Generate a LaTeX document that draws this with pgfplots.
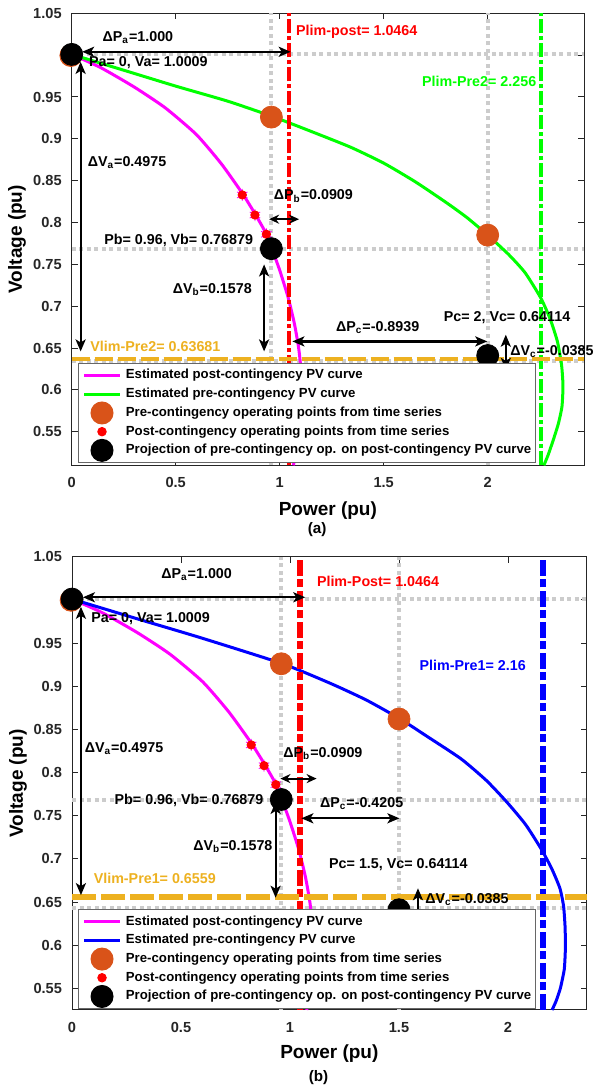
\documentclass[border=0pt]{standalone}
\usepackage{fontspec}
\setmainfont{Liberation Sans}
\usepackage{pgfplots}
\pgfplotsset{compat=1.18}
\usetikzlibrary{arrows.meta}
\definecolor{mag}{rgb}{1,0,1}
\definecolor{grn}{rgb}{0,1,0}
\definecolor{orng}{rgb}{0.85,0.325,0.098}
\definecolor{gold}{rgb}{0.929,0.694,0.125}
\definecolor{gry}{rgb}{0.8,0.8,0.8}
\definecolor{axc}{rgb}{0.15,0.15,0.15}
\tikzset{
  arr/.style={line width=1.1pt,{Stealth[length=6pt,width=5pt,inset=1.5pt]}-{Stealth[length=6pt,width=5pt,inset=1.5pt]}},
  arro/.style={line width=1pt,{Stealth[open,length=5pt,width=4.5pt]}-{Stealth[open,length=5pt,width=4.5pt]}},
  ann/.style={font=\bfseries\fontsize{7.15}{8}\selectfont,inner sep=0pt,anchor=base west},
}
\pgfplotsset{
  myaxis/.style={
    scale only axis, clip=false, xmin=0,
    xtick={0,0.5,1,1.5,2}, xticklabels={0,0.5,1,1.5,2},
    ytick={0.55,0.6,0.65,0.7,0.75,0.8,0.85,0.9,0.95,1,1.05},
    yticklabels={0.55,0.6,0.65,0.7,0.75,0.8,0.85,0.9,0.95,,1.05},
    tick label style={font=\bfseries\fontsize{7.3}{8}\selectfont,text=axc},
    xticklabel style={yshift=-2.5pt},
    yticklabel style={xshift=-1.5pt},
    label style={font=\bfseries\fontsize{9.5}{11}\selectfont},
    axis line style={axc,line width=0.5pt},
    tick style={axc,line width=0.5pt}, major tick length=3pt,
    xlabel={Power (pu)}, ylabel={Voltage (pu)},
    legend cell align=left,
    legend style={draw=axc!70,line width=0.5pt,fill=white,
      font=\bfseries\fontsize{6.6}{7.5}\selectfont,
      nodes={inner sep=0pt,text height=4.8pt,text depth=1.4pt},
      inner xsep=2pt,inner ysep=2.8pt,row sep=3.15pt,column sep=2.2pt},
  },
  gline/.style={gry,line width=2pt,dash pattern=on 2pt off 1.75pt,forget plot},
  lineleg/.style={legend image code/.code={\draw[##1] (0pt,0pt) -- (18pt,0pt);}},
  markleg/.style={legend image code/.code={\path[draw=none,fill=none] (0pt,-1pt) rectangle (18pt,1pt);
      \draw[##1,overlay] plot coordinates {(9pt,0pt)};}},
}
\begin{document}
\begin{tikzpicture}
\useasboundingbox (0,0) rectangle (298.5pt,543pt);
% ===================== (a) =====================
\begin{axis}[myaxis, at={(35.85pt,310.35pt)}, anchor=south west,
  width=256.15pt, height=226pt, xmax=2.463, ymin=0.51, ymax=1.05,
  xlabel style={at={(axis description cs:0.5,-0.0996)},anchor=center},
  ylabel style={at={(axis description cs:-0.107,0.5)},anchor=center},
  legend style={at={(rel axis cs:0.0123,0.2257)},anchor=north west}]
\addplot[gline] coordinates {(0.96,0.51) (0.96,1.05)};
\addplot[gline] coordinates {(2,0.51) (2,1.05)};
\addplot[gline] coordinates {(0,1.0009) (2.463,1.0009)};
\addplot[gline] coordinates {(0,0.76879) (2.463,0.76879)};
\addplot[gline] coordinates {(0,0.6345) (2.463,0.6345)};
\addplot[mag,line width=1.5pt,lineleg,smooth,tension=0.35] coordinates {
 (0,1.0009) (0.14,0.985) (0.30,0.962) (0.45,0.937) (0.60,0.905) (0.72,0.870)
 (0.82,0.835) (0.88,0.811) (0.93,0.789) (0.96,0.7705) (1.0,0.743) (1.04,0.711)
 (1.07,0.680) (1.09,0.652) (1.10,0.630) (1.104,0.600) (1.097,0.565) (1.083,0.535) (1.066,0.51)};
\addlegendentry{Estimated post-contingency PV curve}
\addplot[grn,line width=1.5pt,lineleg,smooth,tension=0.35] coordinates {
 (0,1.0009) (0.25,0.982) (0.5,0.963) (0.75,0.945) (0.962,0.927) (1.15,0.909)
 (1.341,0.89) (1.5,0.871) (1.65,0.849) (1.8,0.824) (1.9,0.806) (2.0,0.785)
 (2.1,0.762) (2.18,0.740) (2.255,0.71) (2.30,0.685) (2.335,0.658) (2.355,0.63)
 (2.362,0.605) (2.357,0.58) (2.34,0.56) (2.315,0.54) (2.29,0.522) (2.27,0.51)};
\addlegendentry{Estimated pre-contingency PV curve}
\addplot[red,line width=2pt,dash pattern=on 7pt off 1.5pt on 2pt off 1.5pt,forget plot] coordinates {(1.0464,0.51) (1.0464,1.05)};
\addplot[grn,line width=2pt,dash pattern=on 7pt off 1.5pt on 2pt off 1.5pt,forget plot] coordinates {(2.256,0.51) (2.256,1.05)};
\addplot[only marks,mark=*,mark size=5.5pt,color=orng,markleg] coordinates {(-0.004,0.9995) (0.96,0.926) (2,0.785)};
\addlegendentry{Pre-contingency operating points from time series}
\addplot[only marks,mark=asterisk,mark size=3pt,color=mag,forget plot] coordinates {(0.82,0.833) (0.881,0.809) (0.936,0.786)};
\addplot[only marks,mark=*,mark size=2.1pt,color=red,markleg] coordinates {(0.82,0.833) (0.881,0.809) (0.936,0.786)};
\addlegendentry{Post-contingency operating points from time series}
\addplot[only marks,mark=*,mark size=5.5pt,color=black,markleg] coordinates {(0,1.0009) (0.96,0.76879) (2,0.64114)};
\addlegendentry{Projection of pre-contingency op. on post-contingency PV curve}
\addplot[gold,line width=2pt,dash pattern=on 9pt off 2.5pt,forget plot] coordinates {(0,0.63681) (2.463,0.63681)};
% arrows
\draw[arr] (0.05,1.004) -- (1.053,1.004);
\draw[arr] (0.043,0.992) -- (0.043,0.646);
\draw[arro] (0.949,0.804) -- (1.093,0.804);
\draw[arr] (0.925,0.750) -- (0.925,0.646);
\draw[arr] (1.061,0.658) -- (1.998,0.658);
\draw[arr] (2.087,0.666) -- (2.087,0.624);
% texts
\node[ann] at (0.147,1.016) {ΔP\textsubscript{a}=1.000};
\node[ann] at (0.082,0.987) {Pa= 0, Va= 1.0009};
\node[ann] at (0.0755,0.867) {ΔV\textsubscript{a}=0.4975};
\node[ann,text=red] at (1.077,1.024) {Plim-post= 1.0464};
\node[ann,text=grn] at (1.683,0.963) {Plim-Pre2= 2.256};
\node[ann] at (0.970,0.8273) {ΔP\textsubscript{b}=0.0909};
\node[ann] at (0.155,0.7734) {Pb= 0.96, Vb= 0.76879};
\node[ann] at (0.484,0.7155) {ΔV\textsubscript{b}=0.1578};
\node[ann,text=gold] at (0.088,0.6455) {Vlim-Pre2= 0.63681};
\node[ann] at (1.269,0.6694) {ΔP\textsubscript{c}=-0.8939};
\node[ann] at (1.787,0.6814) {Pc= 2, Vc= 0.64114};
\node[ann] at (2.107,0.6415) {ΔV\textsubscript{c}=-0.0385};
\node[font=\bfseries\fontsize{7.6}{9}\selectfont] at (axis description cs:0.479,-0.143) {(a)};
\end{axis}
% ===================== (b) =====================
\begin{axis}[myaxis, at={(36pt,38pt)}, anchor=south west,
  width=257.35pt, height=226.65pt, xmax=2.361, ymin=0.525, ymax=1.05,
  xlabel style={at={(axis description cs:0.5,-0.097)},anchor=center},
  ylabel style={at={(axis description cs:-0.105,0.5)},anchor=center},
  legend style={at={(rel axis cs:0.0117,0.222)},anchor=north west}]
\addplot[gline] coordinates {(0.96,0.525) (0.96,1.05)};
\addplot[gline] coordinates {(1.5,0.525) (1.5,1.05)};
\addplot[gline] coordinates {(0,1.0009) (2.361,1.0009)};
\addplot[gline] coordinates {(0,0.76879) (2.361,0.76879)};
\addplot[gline] coordinates {(0,0.643) (2.361,0.643)};
\addplot[mag,line width=1.5pt,lineleg,smooth,tension=0.35] coordinates {
 (0,1.0009) (0.14,0.985) (0.30,0.962) (0.45,0.937) (0.60,0.905) (0.72,0.870)
 (0.82,0.835) (0.88,0.811) (0.93,0.789) (0.96,0.7705) (1.0,0.743) (1.04,0.711)
 (1.07,0.680) (1.09,0.652) (1.10,0.630) (1.104,0.600) (1.097,0.565) (1.083,0.535) (1.077,0.525)};
\addlegendentry{Estimated post-contingency PV curve}
\addplot[blue,line width=1.5pt,lineleg,smooth,tension=0.35] coordinates {
 (0,1.0009) (0.3,0.978) (0.592,0.956) (0.966,0.926) (1.188,0.903) (1.35,0.884)
 (1.506,0.862) (1.628,0.842) (1.784,0.816) (1.9,0.791) (1.994,0.766) (2.08,0.74)
 (2.151,0.712) (2.2,0.689) (2.238,0.666) (2.255,0.645) (2.262,0.62) (2.263,0.595)
 (2.258,0.572) (2.24,0.55) (2.22,0.535) (2.202,0.525)};
\addlegendentry{Estimated pre-contingency PV curve}
\addplot[red,line width=3pt,dash pattern=on 8pt off 1.75pt on 4pt off 1.75pt,forget plot] coordinates {(1.0464,0.525) (1.0464,1.05)};
\addplot[blue,line width=3pt,dash pattern=on 8pt off 1.75pt on 4pt off 1.75pt,forget plot] coordinates {(2.16,0.525) (2.16,1.05)};
\addplot[only marks,mark=*,mark size=5.5pt,color=orng,markleg] coordinates {(-0.004,0.9995) (0.96,0.926) (1.5,0.862)};
\addlegendentry{Pre-contingency operating points from time series}
\addplot[only marks,mark=asterisk,mark size=3pt,color=mag,forget plot] coordinates {(0.822,0.832) (0.881,0.808) (0.935,0.786)};
\addplot[only marks,mark=*,mark size=2.1pt,color=red,markleg] coordinates {(0.822,0.832) (0.881,0.808) (0.935,0.786)};
\addlegendentry{Post-contingency operating points from time series}
\addplot[only marks,mark=*,mark size=5.5pt,color=black,markleg] coordinates {(0,1.0009) (0.96,0.76879) (1.5,0.64114)};
\addlegendentry{Projection of pre-contingency op. on post-contingency PV curve}
\addplot[gold,line width=3pt,dash pattern=on 12pt off 2.5pt,forget plot] coordinates {(0,0.6559) (2.361,0.6559)};
% arrows
\draw[arr] (0.05,1.003) -- (1.07,1.003);
\draw[arr] (0.041,0.992) -- (0.041,0.658);
\draw[arro] (0.956,0.793) -- (1.122,0.793);
\draw[arr] (1.052,0.747) -- (1.502,0.747);
\draw[arr] (0.934,0.766) -- (0.934,0.655);
\draw[arr] (1.587,0.666) -- (1.587,0.622);
% texts
\node[ann] at (0.408,1.025) {ΔP\textsubscript{a}=1.000};
\node[ann] at (0.087,0.9733) {Pa= 0, Va= 1.0009};
\node[ann] at (0.057,0.8235) {ΔV\textsubscript{a}=0.4975};
\node[ann,text=red] at (1.122,1.0154) {Plim-Post= 1.0464};
\node[ann,text=blue] at (1.593,0.9183) {Plim-Pre1= 2.16};
\node[ann] at (0.968,0.8177) {ΔP\textsubscript{b}=0.0909};
\node[ann] at (0.194,0.7628) {Pb= 0.96, Vb= 0.76879};
\node[ann] at (1.136,0.7593) {ΔP\textsubscript{c}=-0.4205};
\node[ann] at (0.555,0.710) {ΔV\textsubscript{b}=0.1578};
\node[ann] at (1.178,0.6883) {Pc= 1.5, Vc= 0.64114};
\node[ann,text=gold] at (0.098,0.671) {Vlim-Pre1= 0.6559};
\node[ann] at (1.619,0.648) {ΔV\textsubscript{c}=-0.0385};
\node[font=\bfseries\fontsize{7.6}{9}\selectfont] at (axis description cs:0.479,-0.148) {(b)};
\end{axis}
\end{tikzpicture}
\end{document}
